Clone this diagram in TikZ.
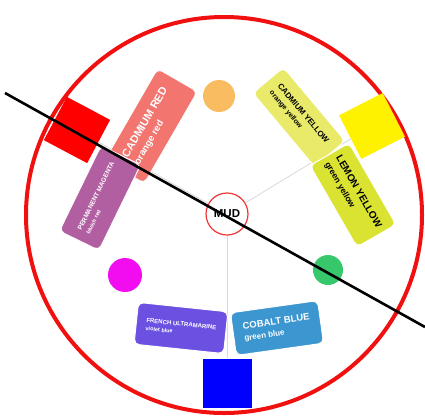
\documentclass[tikz,border=0pt]{standalone}
\usepackage{fontspec}
\setmainfont{Liberation Sans}
\definecolor{cadred}{HTML}{F3756F}
\definecolor{cadyellow}{HTML}{E9E96A}
\definecolor{lemon}{HTML}{DAE232}
\definecolor{permmag}{HTML}{B25FA2}
\definecolor{ultra}{HTML}{6B50E2}
\definecolor{cobalt}{HTML}{3C96CF}
\definecolor{orng}{HTML}{F9BC60}
\definecolor{grn}{HTML}{36C86B}
\definecolor{mag}{HTML}{F20CF0}
\definecolor{ring}{HTML}{F01010}
\begin{document}
\begin{tikzpicture}[x=1pt, y=-1pt,
    paint/.style={rounded corners=5pt, draw=white, line width=1pt, align=left, inner sep=2pt, font=\bfseries},
    sq/.style={minimum size=49pt, inner sep=0pt},
    dot/.style={circle, inner sep=0pt},
    spoke/.style={black!15, line width=0.8pt}]
  \useasboundingbox (0,0) rectangle (425,416);
  % Wheel
  \draw[ring, line width=4pt] (224,215) circle (198pt);
  % Primary squares
  \node[sq, fill=red, rotate=-28] (rsq) at (77,130) {};
  \node[sq, fill=yellow, rotate=27] (ysq) at (372,126) {};
  \node[sq, fill=blue] (bsq) at (227,383) {};
  % Mud in the middle
  \node[circle, draw=ring!85, line width=1.2pt, fill=white, minimum size=42pt, inner sep=0pt, font=\bfseries\fontsize{11.5}{12}\selectfont] (mud) at (227,214) {MUD};
  % Spokes
  \draw[spoke] (mud) -- (rsq);
  \draw[spoke] (mud) -- (ysq);
  \draw[spoke] (mud) -- (bsq);
  % Paints
  \node[paint, fill=cadred, text=white, rotate=60, minimum width=106pt, minimum height=46pt, font=\bfseries\fontsize{11}{12}\selectfont] (cred) at (151,126)
    {CADMIUM RED\\[1pt]{\fontsize{9.5}{11}\selectfont orange red}};
  \node[paint, fill=permmag, text=white, rotate=64, minimum width=95pt, minimum height=44pt, font=\bfseries\fontsize{6.5}{8}\selectfont] (pmag) at (100,198)
    {PERMANENT MAGENTA\\[1pt]{\fontsize{5.5}{7}\selectfont bluish red}};
  \node[paint, fill=cadyellow, text=black, rotate=-50, minimum width=96pt, minimum height=40pt, font=\bfseries\fontsize{8}{9.5}\selectfont] (cyel) at (299,117)
    {CADMIUM YELLOW\\[1pt]{\fontsize{7}{8}\selectfont orange yellow}};
  \node[paint, fill=lemon, text=black, rotate=-60, minimum width=94pt, minimum height=45pt, font=\bfseries\fontsize{10}{11.5}\selectfont] (lemon) at (353,195)
    {LEMON YELLOW\\[1pt]{\fontsize{8.5}{10}\selectfont green yellow}};
  \node[paint, fill=ultra, text=white, rotate=-6, minimum width=90pt, minimum height=42pt, font=\bfseries\fontsize{6}{7}\selectfont] (fultra) at (181,328)
    {FRENCH ULTRAMARINE\\[1pt]{\fontsize{5.5}{6.5}\selectfont violet blue}};
  \node[paint, fill=cobalt, text=white, rotate=8, minimum width=88pt, minimum height=43pt, font=\bfseries\fontsize{9.5}{10.5}\selectfont] (cblue) at (277,328)
    {COBALT BLUE\\[1pt]{\fontsize{8}{9}\selectfont green blue}};
  % Secondary dots
  \node[dot, fill=orng, minimum size=32pt] (orange) at (219,96) {};
  \node[dot, fill=mag, minimum size=34pt] (violet) at (125,275) {};
  \node[dot, fill=grn, minimum size=30pt] (green) at (328,270) {};
  % Cut line
  \coordinate (cutA) at (5,93);
  \coordinate (cutB) at (425,327);
  \draw[line width=2.6pt] (cutA) -- (cutB);
\end{tikzpicture}
\end{document}
